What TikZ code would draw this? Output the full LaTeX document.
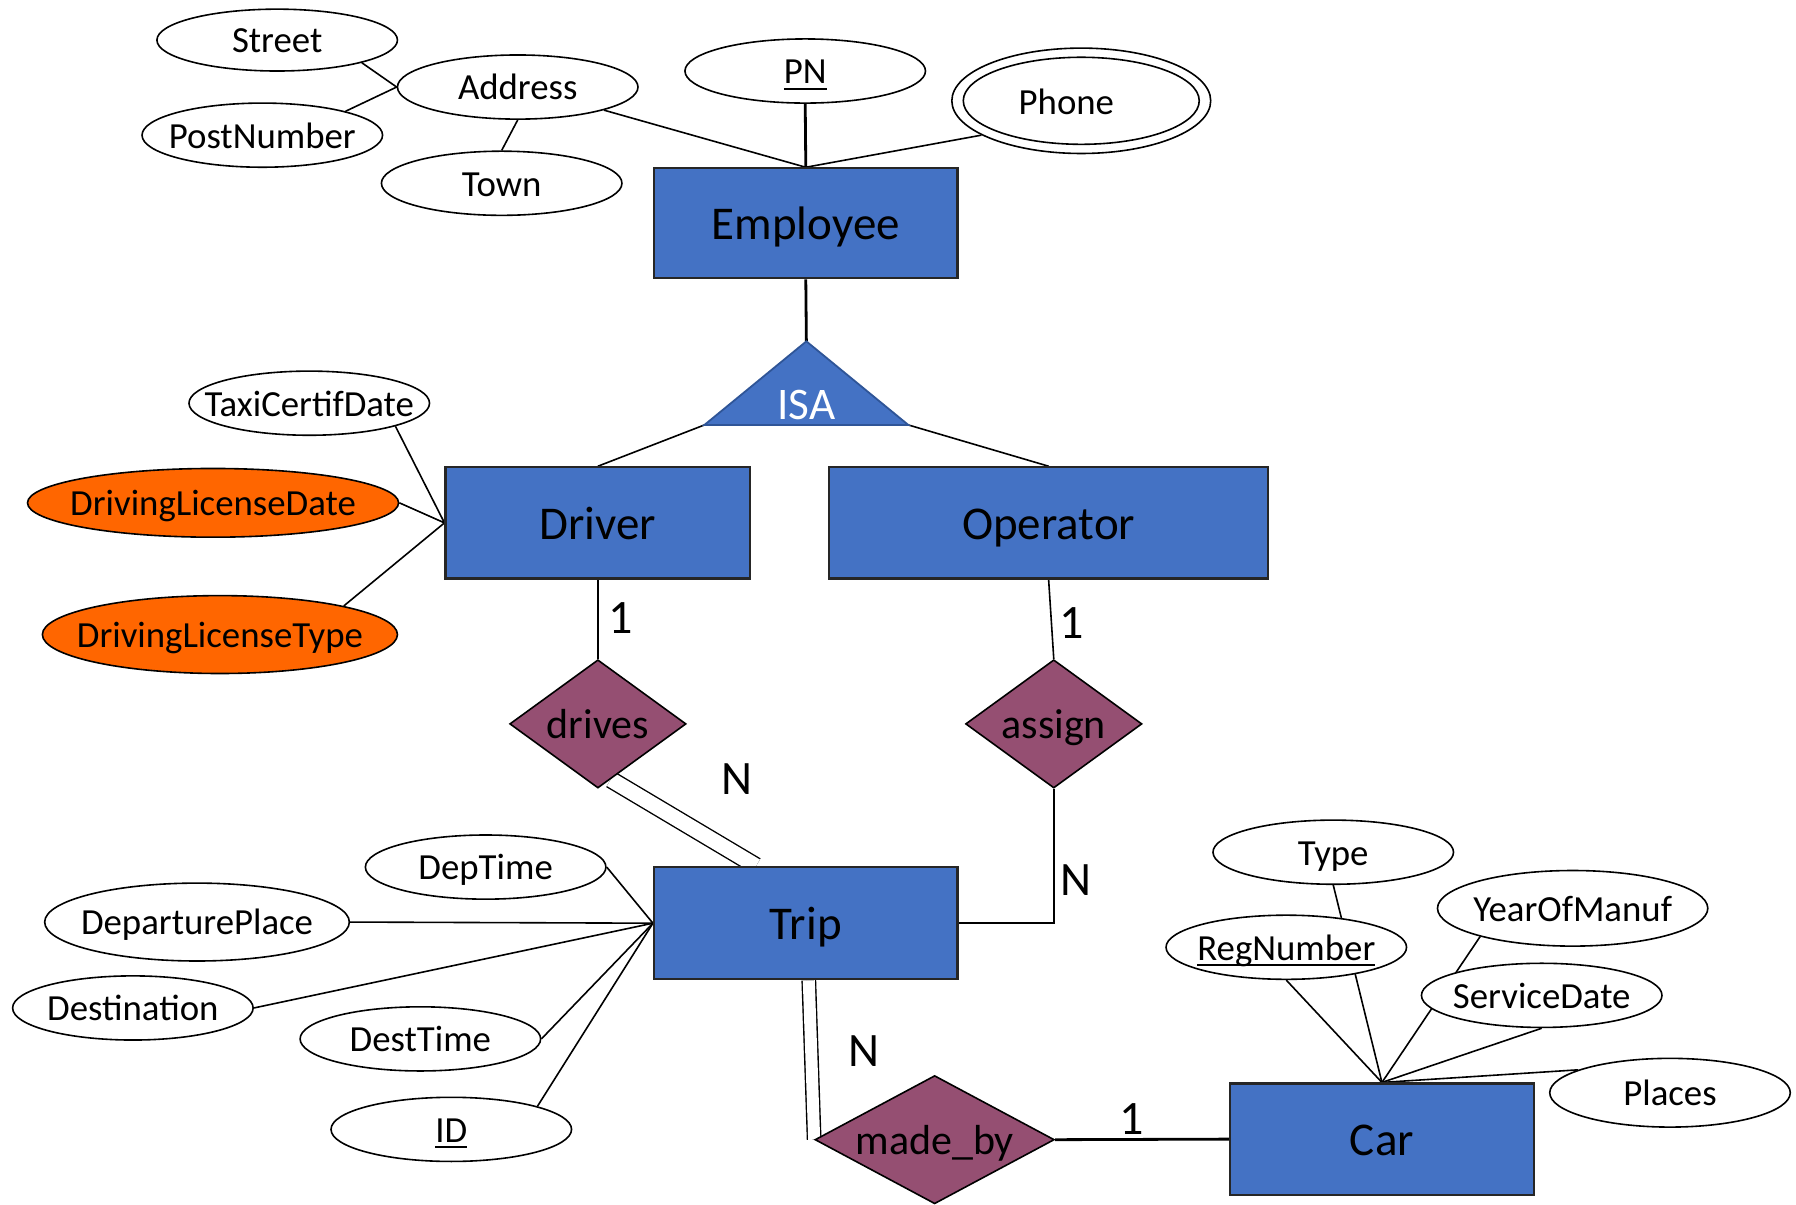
\documentclass[tikz,border=0pt]{standalone}
\usepackage{fontspec}
\setmainfont{Carlito}
\usetikzlibrary{shapes.geometric}
\pgfdeclarelayer{background}
\pgfsetlayers{background,main}
\newcommand\U{0.5727pt}
% key attributes: a firm rule under the word
\newcommand\keyul[1]{\setbox0\hbox{#1}\rlap{\rule[-3pt]{\wd0}{1.2pt}}\box0}
\definecolor{entblue}{HTML}{4472C4}
\definecolor{relmauve}{HTML}{954F72}
\definecolor{attrorange}{HTML}{FF6600}
\definecolor{isaedge}{HTML}{2F5597}

\begin{document}
\begin{tikzpicture}[x=\U, y=-\U,
  attrtext/.style={font=\fontsize{18.4}{22}\selectfont, inner sep=0pt, text height=17.5pt, text depth=4.6pt},
  attr/.style n args={3}{ellipse, draw=black, line width=0.8pt, fill=white, inner sep=0pt,
    minimum width=#1*\U, minimum height=#2*\U, label={[attrtext]center:#3}},
  entity/.style 2 args={rectangle, draw=black!85, line width=1.1pt, fill=entblue, inner sep=0pt,
    minimum width=#1*\U, minimum height=#2*\U, font=\fontsize{23.5}{28}\selectfont,
    text height=22.3pt, text depth=5.9pt},
  rel/.style n args={3}{diamond, draw=black, line width=0.8pt, fill=relmauve, inner sep=0pt,
    minimum width=#1*\U, minimum height=#2*\U,
    label={[font=\fontsize{21}{25}\selectfont, inner sep=0pt, text height=20pt, text depth=5.3pt]center:#3}},
  card/.style={font=\fontsize{24}{28}\selectfont, inner sep=0pt},
  link/.style={line width=0.8pt},
  thicklink/.style={line width=1.4pt},
  total/.style={double, line width=0.7pt, double distance=#1},
  total/.default=6pt
]
\useasboundingbox (0,0) rectangle (1568,1052);

% ---- Employee and its attributes
\node[entity={265}{96}] (employee) at (703.5,195) {Employee};
\node[attr={210}{54}{Street}] (street) at (242,35) {};
\node[attr={210}{56}{Address}] (address) at (452,76) {};
\node[attr={210}{56}{PostNumber}] (postnumber) at (229,118) {};
\node[attr={210}{56}{Town}] (town) at (438,160) {};
\node[attr={210}{56}{\keyul{PN}}] (pn) at (703,62) {};
\node[attr={226}{92}{}] (phone) at (944,88) {};
\node[attr={206}{76}{}] (phonein) at (944,88) {};
\node[attrtext] (phonetext) at (931,89) {Phone};

% ---- ISA triangle
\coordinate (isatop) at (704,298);
\coordinate (isaL) at (615,371);
\coordinate (isaR) at (793,371);
\path[fill=entblue, draw=isaedge, line width=0.9pt] (isatop) -- (isaL) -- (isaR) -- cycle;
\node[font=\fontsize{22.6}{26}\selectfont, text=white, inner sep=0pt, text height=21.5pt, text depth=5.6pt] (isa) at (704,352) {ISA};

% ---- Driver, Operator
\node[entity={266}{97}] (driver) at (522,456.5) {Driver};
\node[entity={383}{97}] (operator) at (915.5,456.5) {Operator};
\node[attr={210}{56}{TaxiCertifDate}] (taxi) at (270,352) {};
\node[attr={324}{60}{DrivingLicenseDate}, fill=attrorange] (dldate) at (186,439) {};
\node[attr={310}{68}{DrivingLicenseType}, fill=attrorange] (dltype) at (192,554) {};

% ---- relationships
\node[rel={154}{112}{drives}] (drives) at (522,632) {};
\node[rel={154}{112}{assign}] (assign) at (920,632) {};
\node[rel={209}{112}{made\_by}] (madeby) at (816,995) {};

% ---- Trip and its attributes
\node[entity={265}{98}] (trip) at (703.5,806) {Trip};
\node[attr={210}{56}{DepTime}] (deptime) at (424,757) {};
\node[attr={266}{68}{DeparturePlace}] (depplace) at (172,805) {};
\node[attr={210}{56}{Destination}] (destination) at (116,880) {};
\node[attr={210}{56}{DestTime}] (desttime) at (367,907) {};
\node[attr={210}{56}{\keyul{ID}}] (id) at (394,986) {};

% ---- Car and its attributes
\node[entity={265}{97}] (car) at (1206.5,994.5) {Car};
\node[attr={210}{56}{Type}] (type) at (1164,744) {};
\node[attr={210}{56}{\keyul{RegNumber}}] (regnumber) at (1123,827) {};
\node[attr={236}{66}{YearOfManuf}] (yom) at (1373,793) {};
\node[attr={210}{56}{ServiceDate}] (servicedate) at (1346,869) {};
\node[attr={210}{60}{Places}] (places) at (1458,954) {};

% ---- cardinalities
\node[card] (c1) at (542,540) {1};
\node[card] (c2) at (643,680) {N};
\node[card] (c3) at (936,544) {1};
\node[card] (c4) at (939,768) {N};
\node[card] (c5) at (754,918) {N};
\node[card] (c6) at (988,977) {1};

% ---- connectors, kept beneath the shapes
\begin{pgfonlayer}{background}
  \draw[link] (street.-15) -- (address.west);
  \draw[link] (postnumber.16) -- (address.west);
  \draw[link] (town.north) -- (address.south);
  \draw[link] (address.-15) -- (employee.north);
  \draw[thicklink] (pn.south) -- (employee.north);
  \draw[link] (phone.-161) -- (employee.north);
  \draw[thicklink] (employee.south) -- (isatop);

  \draw[link] (isaL) -- (driver.north);
  \draw[link] (isaR) -- (operator.north);
  \draw[link] (taxi.-15) -- (driver.west);
  \draw[link] (dldate.east) -- (driver.west);
  \draw[link] (dltype.13) -- (driver.west);

  \draw[thicklink] (driver.south) -- (drives.north);
  \draw[total=7.5pt] (drives.-77) -- (trip.131);
  \draw[link] (operator.south) -- (assign.north);
  \draw[link] (assign.south) |- (trip.east);
  \draw[total=6pt] (trip.-87) -- (madeby.west);
  \draw[thicklink] (madeby.east) -- (car.west);

  \draw[link] (deptime.east) -- (trip.west);
  \draw[link] (depplace.east) -- (trip.west);
  \draw[link] (destination.east) -- (trip.west);
  \draw[link] (desttime.east) -- (trip.west);
  \draw[link] (id.15) -- (trip.west);

  \draw[link] (type.south) -- (car.north);
  \draw[link] (regnumber.south) -- (car.north);
  \draw[link] (yom.197) -- (car.north);
  \draw[link] (servicedate.south) -- (car.north);
  \draw[link] (places.166) -- (car.north);
\end{pgfonlayer}
\end{tikzpicture}
\end{document}
